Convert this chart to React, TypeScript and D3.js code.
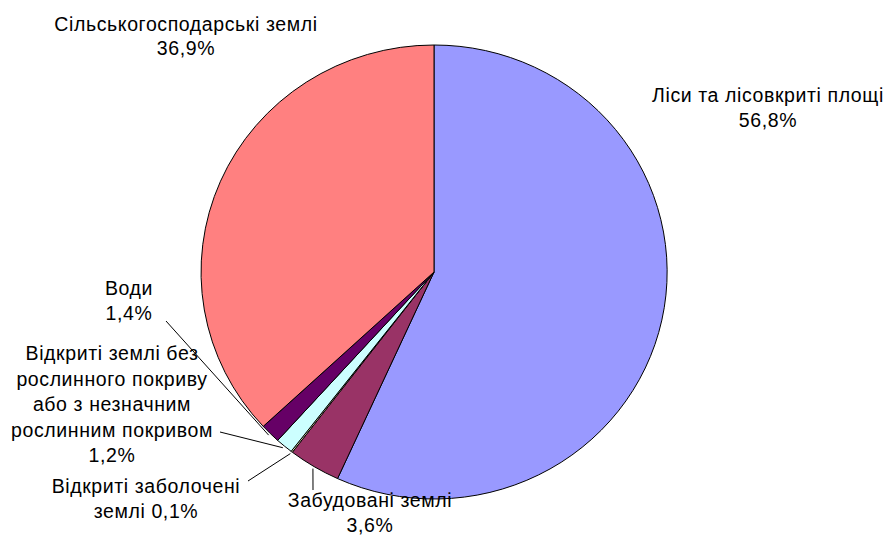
import React from "react";
import * as d3 from "d3";

const categories = [
  "Ліси та лісовкриті площі",
  "Забудовані землі",
  "Відкриті заболочені землі",
  "Відкриті землі без рослинного покриву або з незначним рослинним покривом",
  "Води",
  "Сільськогосподарські землі",
];
const values = [56.8, 3.6, 0.1, 1.2, 1.4, 36.9];
const valueLabels = ["56,8%", "3,6%", "0,1%", "1,2%", "1,4%", "36,9%"];
const colors = ["#9999FF", "#993366", "#FFFFCC", "#CCFFFF", "#660066", "#FF8080"];

// label text lines, split as in the chart
const labelLines = [
  ["Ліси та лісовкриті площі", valueLabels[0]],
  ["Забудовані землі", valueLabels[1]],
  ["Відкриті заболочені", "землі " + valueLabels[2]],
  ["Відкриті землі без", "рослинного покриву", "або з незначним", "рослинним покривом", valueLabels[3]],
  ["Води", valueLabels[4]],
  ["Сільськогосподарські землі", valueLabels[5]],
];
const labelPos = [
  { x: 768, y: 102, lh: 25, leader: null },
  { x: 370, y: 507, lh: 25, leader: [313, 490] },
  { x: 146, y: 493, lh: 25, leader: [248, 481] },
  { x: 112, y: 360, lh: 25.5, leader: [220, 432] },
  { x: 129, y: 294.5, lh: 25, leader: [166, 321] },
  { x: 186, y: 31, lh: 24, leader: null },
];

const W = 888;
const H = 535;
const cx = 434;
const cy = 272;
const rx = 233;
const ry = 227;

export default function App() {
  const pie = d3.pie<number>().sort(null).value((d) => d)(values);
  const arc = d3.arc<d3.PieArcDatum<number>>().innerRadius(0).outerRadius(1);
  const font = "'Liberation Sans', Arial, sans-serif";
  return (
    <svg
      width={W}
      height={H}
      style={{ position: "absolute", left: 0, top: 0, background: "#fff" }}
    >
      <g transform={`translate(${cx},${cy}) scale(${rx},${ry})`}>
        {pie.map((p, i) => (
          <path
            key={categories[i]}
            d={arc(p) || ""}
            fill={colors[i]}
            stroke="#000"
            strokeWidth={1}
            vectorEffect="non-scaling-stroke"
          />
        ))}
      </g>
      {pie.map((p, i) => {
        const pos = labelPos[i];
        if (!pos.leader) return null;
        const a = (p.startAngle + p.endAngle) / 2;
        const ex = cx + Math.sin(a) * rx * 1.01;
        const ey = cy - Math.cos(a) * ry * 1.01;
        return (
          <line
            key={"l" + i}
            x1={pos.leader[0]}
            y1={pos.leader[1]}
            x2={ex}
            y2={ey}
            stroke="#000"
            strokeWidth={1}
          />
        );
      })}
      {labelLines.map((lines, i) => (
        <text
          key={"t" + i}
          x={labelPos[i].x}
          y={labelPos[i].y}
          textAnchor="middle"
          fontFamily={font}
          fontSize={19.5}
          letterSpacing={0.6}
          fill="#000"
        >
          {lines.map((ln, j) => (
            <tspan key={j} x={labelPos[i].x} dy={j === 0 ? 0 : labelPos[i].lh}>
              {ln}
            </tspan>
          ))}
        </text>
      ))}
    </svg>
  );
}
